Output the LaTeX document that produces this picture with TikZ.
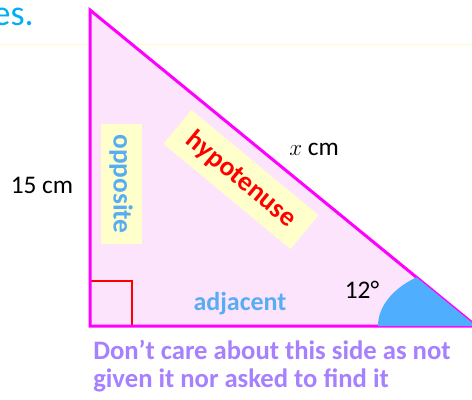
\documentclass[tikz,border=0pt]{standalone}
\usepackage{fontspec}
\setmainfont{Carlito}
\usetikzlibrary{positioning}
\definecolor{tripink}{RGB}{253,228,253}
\definecolor{trimag}{RGB}{255,0,255}
\definecolor{angblue}{RGB}{80,174,255}
\definecolor{lblblue}{RGB}{88,173,242}
\definecolor{boxyellow}{RGB}{255,255,204}
\definecolor{notepurple}{RGB}{166,128,255}
\definecolor{titlecyan}{RGB}{0,176,240}
\definecolor{guideyellow}{RGB}{255,250,200}

\begin{document}
\begin{tikzpicture}[
    x=0.75pt, y=-0.75pt,
    side/.style={draw=trimag, line width=2.25pt},
    tag/.style={
      fill=boxyellow, inner sep=0pt,
      font=\fontsize{20.5}{22}\selectfont\bfseries
    },
    lbl/.style={font=\fontsize{19}{22}\selectfont, inner sep=0pt, anchor=base},
  ]
  \useasboundingbox (0,0) rectangle (472,400);

  % Guide line and title fragment
  \draw[guideyellow, line width=0.75pt] (0,44) -- (472,44);
  \node[font=\fontsize{27}{30}\selectfont, text=titlecyan, anchor=base east, inner sep=0pt] (title) at (34,25) {es.};

  % Triangle
  \coordinate (top)    at (90,10);
  \coordinate (corner) at (90,326);
  \coordinate (tip)    at (476,326);
  \fill[tripink] (top) -- (corner) -- (tip) -- cycle;
  \draw[red, line width=1.1pt] (90,281) -- (132,281) -- (132,326);
  \draw[side] (top) -- (corner) -- (tip) -- cycle;

  % Angle sector
  \begin{scope}
    \clip (top) -- (corner) -- (tip) -- cycle;
    \fill[angblue] (tip) ellipse [x radius=73.5pt, y radius=46pt];
  \end{scope}

  % Side tags
  \node[tag, rotate=-90, minimum width=90pt, minimum height=30.75pt, text=lblblue] (opp) at (121,184) {opposite};
  \node[tag, rotate=-39.6, minimum width=123.75pt, minimum height=33pt, text=red] (hyp) at (241,179.5) {hypotenuse};
  \node[tag, fill=none, font=\fontsize{19.5}{22}\selectfont\bfseries, text=lblblue, anchor=base] (adj) at (240,310) {adjacent};

  % Lengths and angle
  \node[lbl] (xlen) at (314,155) {$x$ cm};
  \node[lbl] (hgt)  at (42,193)  {15 cm};
  \node[lbl] (ang)  at (362,298) {12°};

  % Note
  \node[font=\fontsize{20}{21}\selectfont\bfseries, text=notepurple, align=left, anchor=base west, inner sep=0pt] (note) at (93,387)
    {Don’t care about this side as not\\given it nor asked to find it};

\end{tikzpicture}
\end{document}
